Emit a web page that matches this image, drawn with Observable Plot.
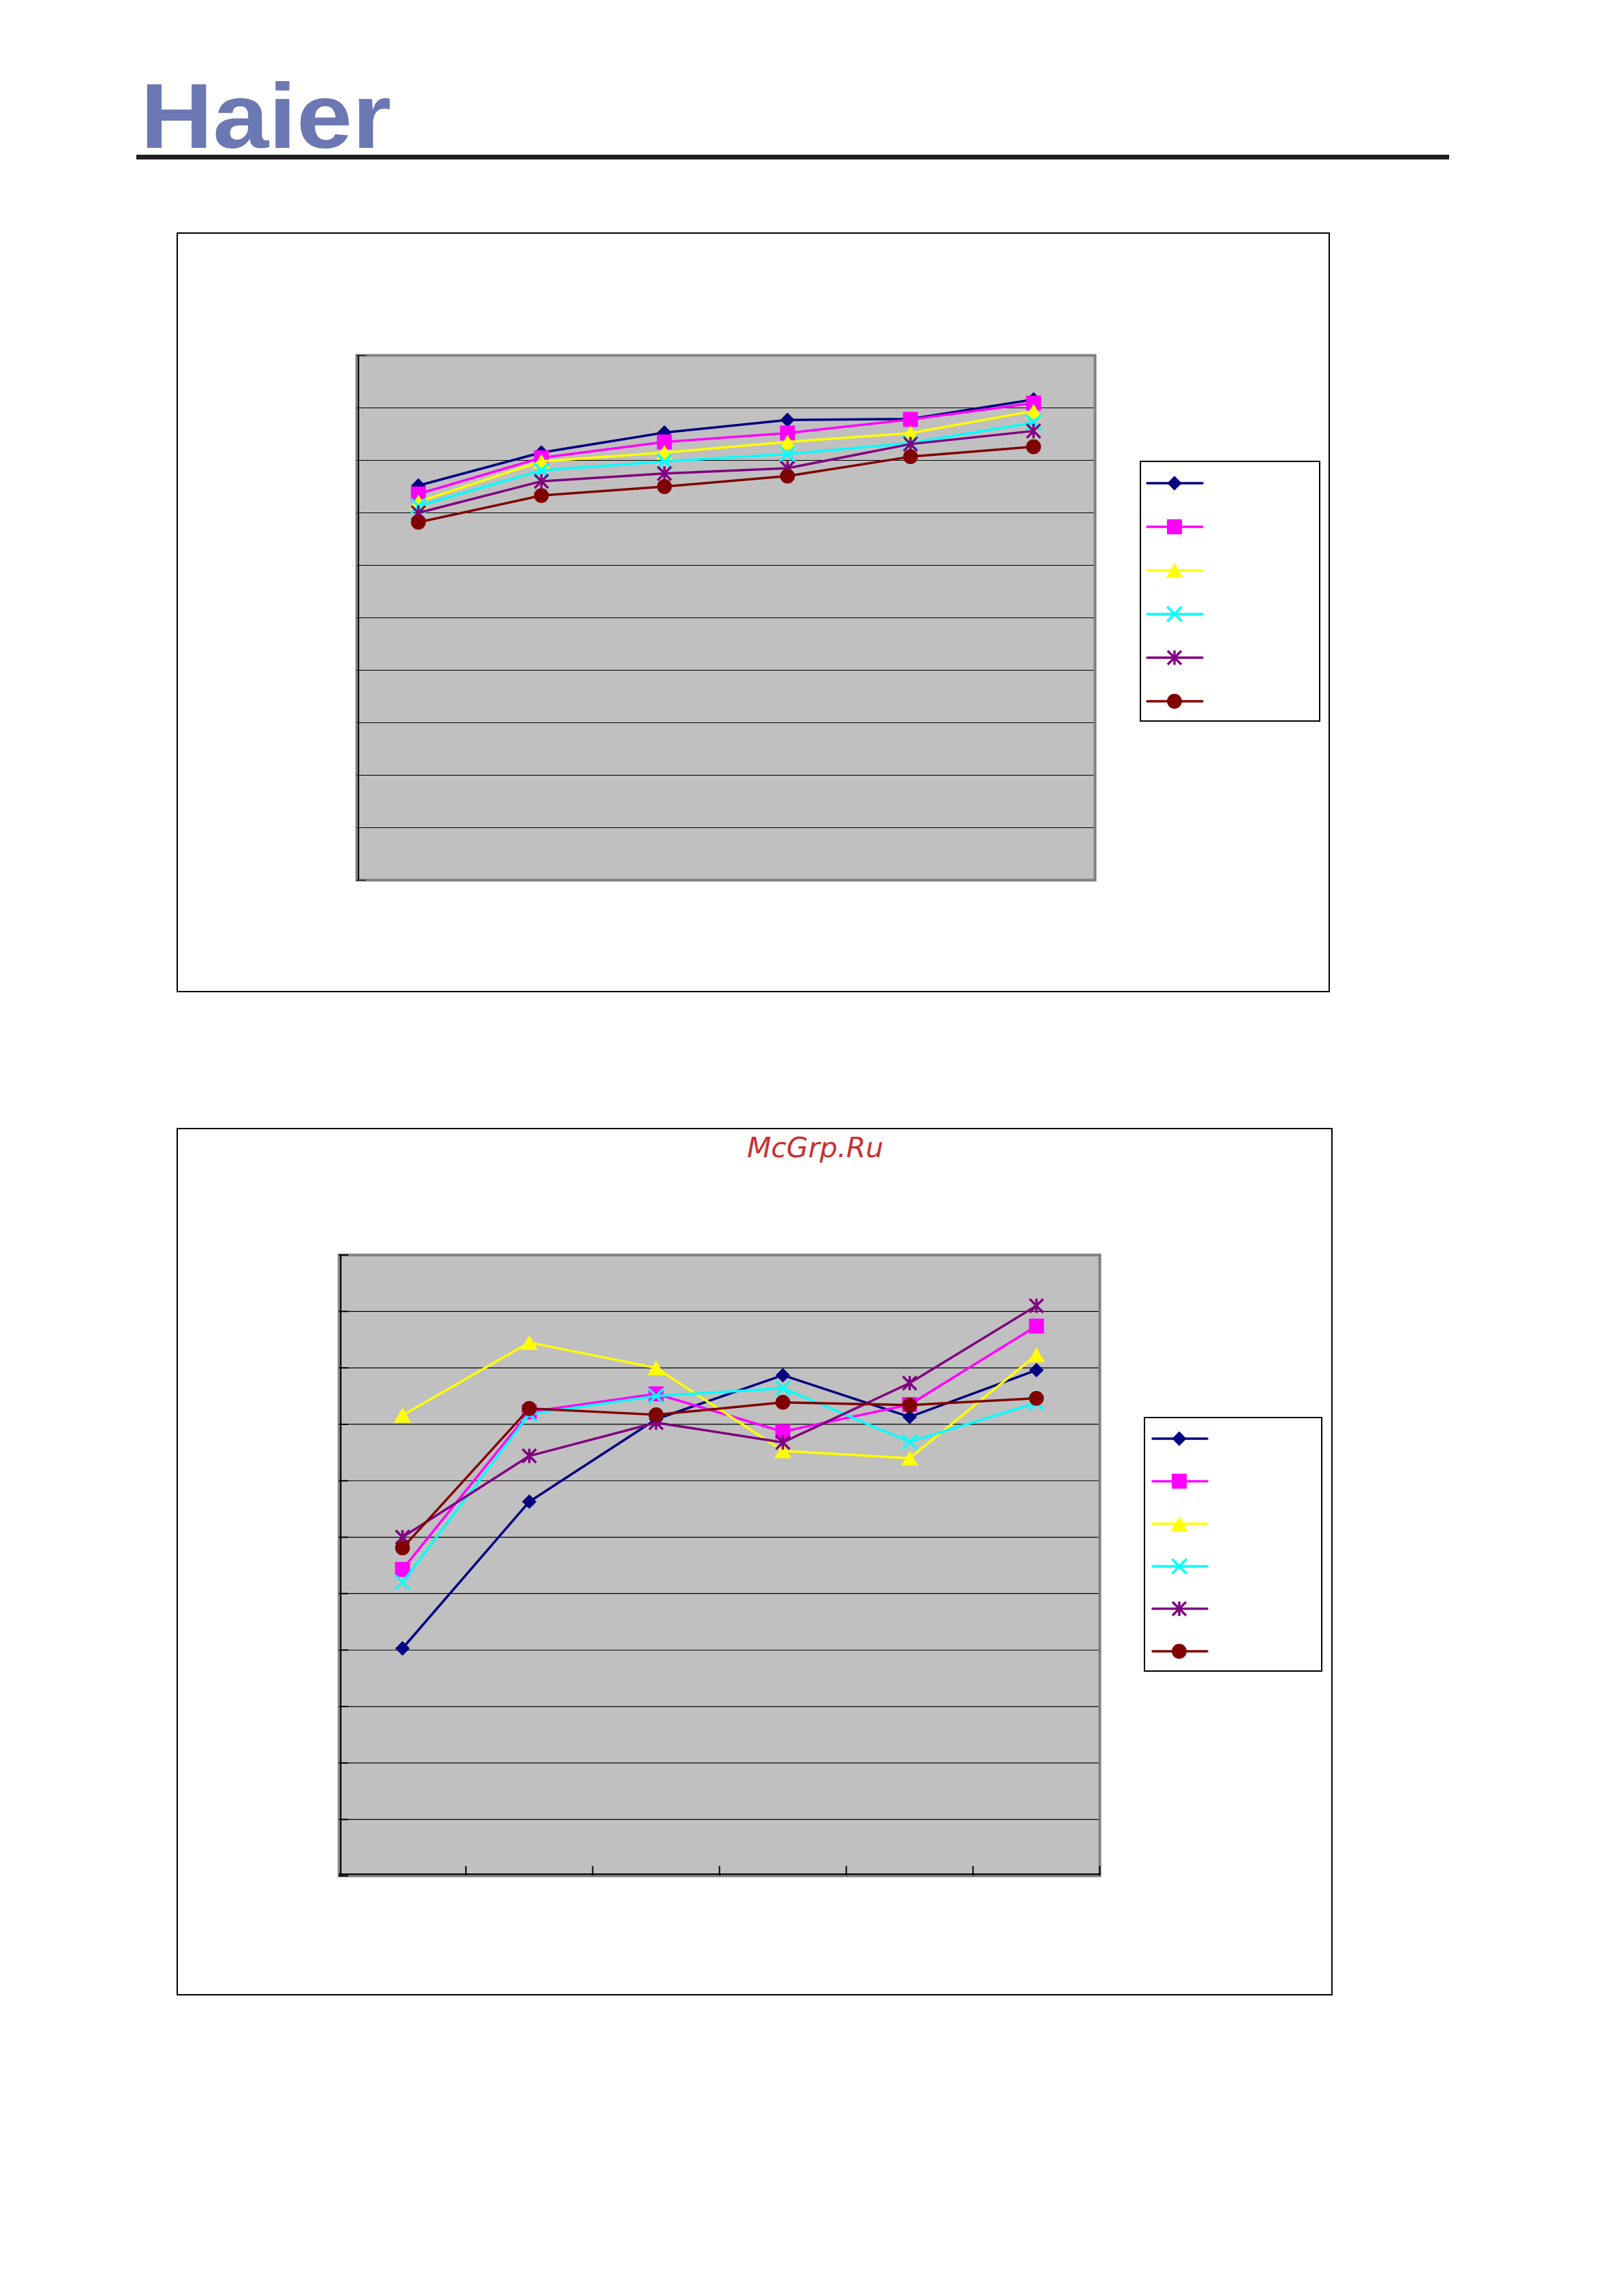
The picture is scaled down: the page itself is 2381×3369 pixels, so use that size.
<!DOCTYPE html>
<html>
<head>
<meta charset="utf-8">
<script src="https://cdn.jsdelivr.net/npm/d3@7"></script>
<script src="https://cdn.jsdelivr.net/npm/@observablehq/plot@0.6"></script>
<style>
html, body { margin: 0; padding: 0; background: #ffffff; }
#page { position: relative; width: 2381px; height: 3369px; overflow: hidden; background: #ffffff; }
.abs { position: absolute; }
</style>
</head>
<body>
<div id="page"></div>
<script>
// ---------------- DATA ----------------
const categories = ["1", "2", "3", "4", "5", "6"];
const seriesIds = ["S1", "S2", "S3", "S4", "S5", "S6"];

// Chart 1 (upper) series values, y grid units 0..10
const chart1S1 = [7.52, 8.15, 8.53, 8.77, 8.79, 9.16];
const chart1S2 = [7.36, 8.05, 8.35, 8.52, 8.78, 9.09];
const chart1S3 = [7.21, 7.98, 8.15, 8.35, 8.52, 8.94];
const chart1S4 = [7.13, 7.81, 7.98, 8.12, 8.33, 8.72];
const chart1S5 = [7.00, 7.60, 7.75, 7.85, 8.31, 8.56];
const chart1S6 = [6.82, 7.33, 7.50, 7.70, 8.07, 8.26];

// Chart 2 (lower) series values, y grid units 0..11
const chart2S1 = [4.03, 6.63, 8.09, 8.87, 8.13, 8.96];
const chart2S2 = [5.43, 8.22, 8.54, 7.87, 8.35, 9.74];
const chart2S3 = [8.16, 9.45, 9.00, 7.53, 7.40, 9.23];
const chart2S4 = [5.20, 8.18, 8.50, 8.64, 7.69, 8.38];
const chart2S5 = [6.00, 7.44, 8.03, 7.68, 8.73, 10.10];
const chart2S6 = [5.81, 8.28, 8.17, 8.39, 8.34, 8.46];

const chart1YTicks = [0, 1, 2, 3, 4, 5, 6, 7, 8, 9, 10];
const chart2YTicks = [0, 1, 2, 3, 4, 5, 6, 7, 8, 9, 10, 11];
const chart2XTicks = [1, 2, 3, 4, 5, 6];

const logoText = "Haier";
const watermarkText = "McGrp.Ru";

// ---------------- STYLE ----------------
// Excel-like "star" marker: vertical bar plus an X
const symbolStar = {
  draw(context, size) {
    const r = Math.sqrt(size) * 0.59436;
    const d = r * 0.95;
    context.moveTo(0, -r); context.lineTo(0, r);
    context.moveTo(-d, -d); context.lineTo(d, d);
    context.moveTo(-d, d); context.lineTo(d, -d);
  }
};
const seriesColors = ["#000080", "#FF00FF", "#FFFF00", "#00FFFF", "#800080", "#800000"];
const seriesSymbols = [d3.symbolDiamond2, d3.symbolSquare, d3.symbolTriangle, d3.symbolTimes, symbolStar, d3.symbolCircle];
const seriesR = [9.6, 12.4, 9.3, 9.8, 10, 10.9];
const seriesStrokeOnly = [false, false, false, true, true, false];
const seriesDy = [0, 0, 3.6, 0, 0, 0];
const lineWidth = 3.5;

const layout1 = {
  frame: {x: 260, y: 342, w: 1692, h: 1115},
  plot: {x0: 523, y0: 521, x1: 1606, y1: 1291},
  legend: {x: 1672, y: 676, w: 265, h: 383, lineX0: 11, lineX1: 92, markX: 51, firstY: 33, stepY: 64},
  tickWidth: 1
};
const layout2 = {
  frame: {x: 260, y: 1656, w: 1696, h: 1273},
  plot: {x0: 497, y0: 1841, x1: 1613, y1: 2752},
  legend: {x: 1678, y: 2079, w: 262, h: 374, lineX0: 13, lineX1: 93, markX: 52, firstY: 32, stepY: 62.4},
  tickWidth: 2
};

const page = document.getElementById("page");

// ---------------- HEADER ----------------
const header = d3.select(page).append("svg")
  .attr("class", "abs")
  .style("left", "0px").style("top", "0px")
  .attr("width", 2381).attr("height", 260);
header.append("text")
  .attr("x", 206).attr("y", 217)
  .attr("font-family", "'Liberation Sans', Arial, sans-serif")
  .attr("font-weight", "bold")
  .attr("font-size", 136)
  .attr("fill", "#6b78b3")
  .attr("textLength", 368)
  .attr("lengthAdjust", "spacingAndGlyphs")
  .text(logoText);
header.append("rect")
  .attr("x", 200).attr("y", 227).attr("width", 1926).attr("height", 7)
  .attr("fill", "#231F20");

// ---------------- CHARTS ----------------
function buildChart(seriesValues, yTicks, L, opts) {
  const yMax = yTicks[yTicks.length - 1];
  const data = [];
  seriesValues.forEach((vals, si) => vals.forEach((v, ci) => data.push({series: seriesIds[si], cat: categories[ci], value: v})));
  const xPos = d => categories.indexOf(d.cat) + 0.5;

  const marks = [
    Plot.frame({fill: "#C0C0C0", stroke: "none"}),
    Plot.gridY(yTicks.slice(1, -1), {stroke: "#000", strokeOpacity: 1, strokeWidth: 1.2}),
    Plot.frame({stroke: "#808080", strokeWidth: 4, fill: "none"}),
    Plot.ruleX([0], {stroke: "#000", strokeWidth: 2, dx: 2.5}),
    Plot.axisY({ticks: yTicks, tickSize: -14, fill: "none", stroke: "#000", strokeWidth: L.tickWidth, label: null})
  ];
  if (opts.xTicks) {
    marks.push(Plot.ruleY([0], {stroke: "#000", strokeWidth: 2, dy: -2.5}));
    marks.push(Plot.axisX({ticks: opts.xTicks, tickSize: -14, fill: "none", stroke: "#000", strokeWidth: 2, label: null}));
  }
  seriesIds.forEach((id, si) => {
    const sd = data.filter(d => d.series === id);
    marks.push(Plot.line(sd, {x: xPos, y: "value", stroke: seriesColors[si], strokeWidth: lineWidth, strokeLinejoin: "round", strokeLinecap: "round"}));
    const dotOpts = {x: xPos, y: "value", symbol: seriesSymbols[si], r: seriesR[si], dy: seriesDy[si]};
    if (seriesStrokeOnly[si]) Object.assign(dotOpts, {fill: "none", stroke: seriesColors[si], strokeWidth: 3.5});
    else Object.assign(dotOpts, {fill: seriesColors[si], stroke: "none"});
    marks.push(Plot.dot(sd, dotOpts));
  });

  const F = L.frame, P = L.plot;
  const svg = Plot.plot({
    width: F.w,
    height: F.h,
    marginLeft: P.x0 - F.x,
    marginTop: P.y0 - F.y,
    marginRight: F.x + F.w - P.x1,
    marginBottom: F.y + F.h - P.y1,
    style: {background: "transparent", overflow: "visible"},
    x: {type: "linear", domain: [0, categories.length], axis: null},
    y: {type: "linear", domain: [0, yMax], axis: null},
    marks
  });
  svg.classList.add("abs");
  svg.style.left = F.x + "px";
  svg.style.top = F.y + "px";
  page.appendChild(svg);

  // outer chart border
  d3.select(page).append("div")
    .attr("class", "abs")
    .style("left", (F.x - 1) + "px").style("top", (F.y - 1) + "px")
    .style("width", F.w + "px").style("height", F.h + "px")
    .style("border", "2px solid #000")
    .style("box-sizing", "border-box")
    .style("pointer-events", "none");

  // legend (no labels, as in the reference)
  const G = L.legend;
  const lg = d3.select(page).append("svg")
    .attr("class", "abs")
    .style("left", G.x + "px").style("top", G.y + "px")
    .attr("width", G.w).attr("height", G.h);
  lg.append("rect").attr("x", 1).attr("y", 1).attr("width", G.w - 2).attr("height", G.h - 2)
    .attr("fill", "#fff").attr("stroke", "#000").attr("stroke-width", 2);
  seriesIds.forEach((id, si) => {
    const yy = G.firstY + si * G.stepY;
    lg.append("line").attr("x1", G.lineX0).attr("x2", G.lineX1).attr("y1", yy).attr("y2", yy)
      .attr("stroke", seriesColors[si]).attr("stroke-width", lineWidth).attr("stroke-linecap", "round");
    const p = lg.append("path")
      .attr("d", d3.symbol(seriesSymbols[si], Math.PI * seriesR[si] * seriesR[si])())
      .attr("transform", `translate(${G.markX},${yy + seriesDy[si]})`);
    if (seriesStrokeOnly[si]) p.attr("fill", "none").attr("stroke", seriesColors[si]).attr("stroke-width", 3.5);
    else p.attr("fill", seriesColors[si]);
  });
}

buildChart([chart1S1, chart1S2, chart1S3, chart1S4, chart1S5, chart1S6], chart1YTicks, layout1, {});
buildChart([chart2S1, chart2S2, chart2S3, chart2S4, chart2S5, chart2S6], chart2YTicks, layout2, {xTicks: chart2XTicks});

// watermark
d3.select(page).append("svg")
  .attr("class", "abs")
  .style("left", "1000px").style("top", "1650px")
  .attr("width", 400).attr("height", 70)
  .append("text")
  .attr("x", 196).attr("y", 48)
  .attr("text-anchor", "middle")
  .attr("font-family", "'DejaVu Sans', sans-serif")
  .attr("font-style", "italic")
  .attr("font-size", 41)
  .attr("fill", "#cc2f2f")
  .text(watermarkText);
</script>
</body>
</html>
